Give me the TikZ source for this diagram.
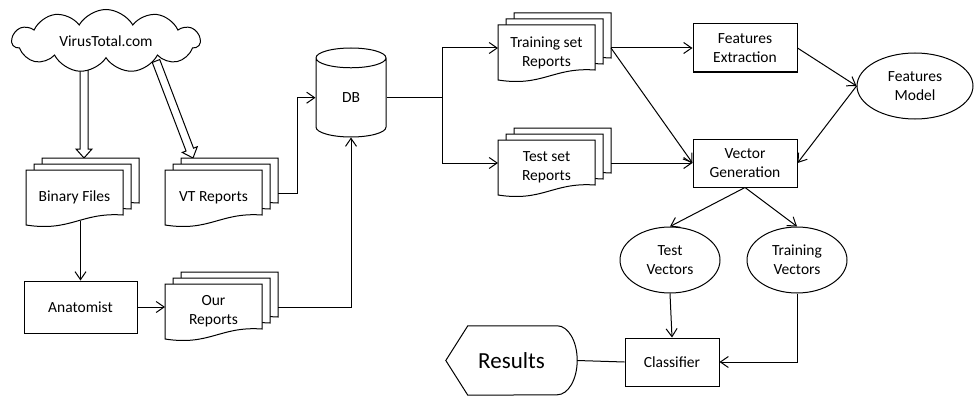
\documentclass[tikz,border=0pt]{standalone}
\usepackage{fontspec}
\setmainfont{Carlito}
\usetikzlibrary{arrows.meta,calc,backgrounds,shapes.geometric,shapes.symbols}

\tikzset{
  box/.style={draw, line width=1pt, inner sep=0pt, align=center},
  proc/.style={box, rectangle, minimum width=104pt, minimum height=48pt},
  vecs/.style={box, ellipse, minimum width=100pt, minimum height=66pt},
  link/.style={line width=1pt},
  arr/.style={line width=1pt, -{Straight Barb[length=8pt,width=11pt]}}
}

% one sheet with a wavy lower edge, top left corner at (#1,#2)
\newcommand{\docsheet}[2]{%
  \draw[fill=white, line width=1pt] (#1,#2) -- (#1+97,#2) -- (#1+97,#2-45)
    .. controls (#1+55,#2-42) and (#1+45,#2-62) .. (#1,#2-55) -- cycle;
}
% stack of three sheets: name, x, y of the front sheet, text
\newcommand{\docstack}[4]{%
  \docsheet{#2+16}{#3+12}
  \docsheet{#2+8}{#3+6}
  \docsheet{#2}{#3}
  \node[align=center, inner sep=0pt, minimum width=97pt, minimum height=47pt] (#1) at (#2+48.5,#3-27.5) {#4};
  \coordinate (#1-in) at (#2,#3-23);
  \coordinate (#1-out) at (#2+113,#3-23);
  \coordinate (#1-top) at (#2+16,#3+12);
}
% wide outlined arrow from #1 to #2
\newcommand{\hollowarrow}[2]{%
  \coordinate (ha) at (#1);
  \coordinate (hb) at (#2);
  \coordinate (hh) at ($(hb)!9pt!(ha)$);
  \draw[fill=white, line width=1pt] ($(ha)!4pt!90:(hb)$) -- ($(hh)!4pt!-90:(ha)$) -- ($(hh)!8pt!-90:(ha)$)
    -- (hb) -- ($(hh)!8pt!90:(ha)$) -- ($(hh)!4pt!90:(ha)$) -- ($(ha)!4pt!-90:(hb)$) -- cycle;
}

\begin{document}
\begin{tikzpicture}[x=1pt, y=1pt, font=\fontsize{15.5}{19}\selectfont]
    \useasboundingbox (0,0) rectangle (974,-396);

    \node[cloud, draw, fill=white, line width=1pt, cloud puffs=11, cloud puff arc=120,
      cloud ignores aspect, minimum width=188pt, minimum height=63pt, inner sep=0pt] (vt) at (106,-41) {VirusTotal.com};

    \docstack{bin}{26}{-170}{Binary Files}
    \docstack{vtrep}{165}{-170}{VT Reports}
    \docstack{ourrep}{165}{-284}{Our\\Reports}
    \docstack{trainrep}{498}{-25}{Training set\\Reports}
    \docstack{testrep}{498}{-140}{Test set\\Reports}

    \node[box, minimum width=113pt, minimum height=52pt] (anat) at (80.5,-307) {Anatomist};
    \node[box, cylinder, shape border rotate=90, aspect=1.1, anchor=shape center,
      minimum width=70pt, minimum height=89pt] (db) at (351,-92.5) {DB};
    \node[proc] (fe) at (745,-48) {Features\\Extraction};
    \node[proc] (vg) at (745,-163) {Vector\\Generation};
    \node[box, ellipse, minimum width=116pt, minimum height=66pt] (fm) at (915,-86) {Features\\Model};
    \node[vecs] (tv) at (670,-260) {Test\\Vectors};
    \node[vecs] (trv) at (797,-260) {Training\\Vectors};
    \node[proc, minimum width=94pt] (cls) at (672,-362) {Classifier};
    \node[inner sep=0pt, minimum width=131pt, minimum height=69pt, font=\fontsize{23}{28}\selectfont] (res) at (511.5,-360.5) {Results};
    \draw[link] (res.west) -- ([xshift=22pt]res.north west) -- ([xshift=-20pt]res.north east)
      arc[start angle=90, end angle=-90, x radius=20pt, y radius=34.5pt] -- ([xshift=22pt]res.south west) -- cycle;

    \coordinate (bin-drop) at ([xshift=42pt]bin-top);
    \coordinate (vt-drop) at ([xshift=12pt]vtrep-top);
    \begin{scope}[on background layer]
      \hollowarrow{bin-drop |- vt.center}{bin-drop}
      \hollowarrow{$(vt.center)+(50,-20)$}{vt-drop}
    \end{scope}

    \draw[arr] (bin.south -| anat.north) -- (anat.north);
    \draw[arr] (anat.east) -- (ourrep-in);
    \draw[arr] (vtrep-out) -- ++(19,0) |- (db.west);
    \draw[arr] (ourrep-out) -| (db.south);
    \draw[link] (db.east) -- ++(56,0) coordinate (split);
    \draw[arr] (split) |- (trainrep-in);
    \draw[arr] (split) |- (testrep-in);
    \draw[arr] (trainrep-out) -- (fe.west);
    \draw[arr] (trainrep-out) -- (vg.west);
    \draw[arr] (testrep-out) -- (vg.west);
    \draw[arr] (fe.east) -- (fm.west);
    \draw[arr] (fm.west) -- (vg.east);
    \draw[arr] (vg.south) -- (tv.north);
    \draw[arr] (vg.south) -- (trv.north);
    \draw[arr] (tv.south) -- (cls.north);
    \draw[arr] (trv.south) |- (cls.east);
    \draw[link] (res.east) -- (cls.west);
\end{tikzpicture}
\end{document}
